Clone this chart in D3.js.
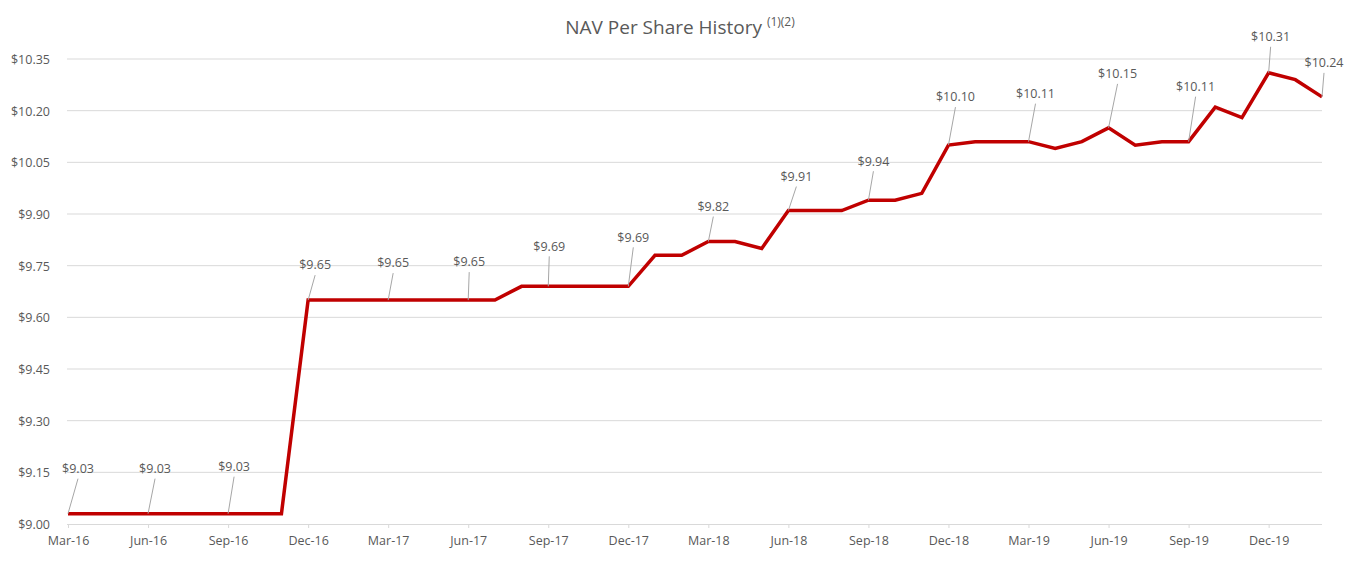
<!DOCTYPE html>
<html>
<head>
<meta charset="utf-8">
<script src="https://cdn.jsdelivr.net/npm/d3@7"></script>
<style>
    body { margin: 0; background: #fff; }
    text { font-family: "Open Sans", sans-serif; fill: #595959; }
</style>
</head>
<body>
<div id="chart"></div>
<script>
var svgWidth = 1365;
var svgHeight = 569;

// Data
var months = ["Mar-16", "Apr-16", "May-16", "Jun-16", "Jul-16", "Aug-16", "Sep-16", "Oct-16", "Nov-16", "Dec-16",
    "Jan-17", "Feb-17", "Mar-17", "Apr-17", "May-17", "Jun-17", "Jul-17", "Aug-17", "Sep-17", "Oct-17", "Nov-17", "Dec-17",
    "Jan-18", "Feb-18", "Mar-18", "Apr-18", "May-18", "Jun-18", "Jul-18", "Aug-18", "Sep-18", "Oct-18", "Nov-18", "Dec-18",
    "Jan-19", "Feb-19", "Mar-19", "Apr-19", "May-19", "Jun-19", "Jul-19", "Aug-19", "Sep-19", "Oct-19", "Nov-19", "Dec-19",
    "Jan-20", "Feb-20"];
var nav = [9.03, 9.03, 9.03, 9.03, 9.03, 9.03, 9.03, 9.03, 9.03, 9.65,
    9.65, 9.65, 9.65, 9.65, 9.65, 9.65, 9.65, 9.69, 9.69, 9.69, 9.69, 9.69,
    9.78, 9.78, 9.82, 9.82, 9.80, 9.91, 9.91, 9.91, 9.94, 9.94, 9.96, 10.10,
    10.11, 10.11, 10.11, 10.09, 10.11, 10.15, 10.10, 10.11, 10.11, 10.21, 10.18, 10.31,
    10.29, 10.24];
var xTickLabels = ["Mar-16", "Jun-16", "Sep-16", "Dec-16", "Mar-17", "Jun-17", "Sep-17", "Dec-17",
    "Mar-18", "Jun-18", "Sep-18", "Dec-18", "Mar-19", "Jun-19", "Sep-19", "Dec-19"];
var yTicks = [9.00, 9.15, 9.30, 9.45, 9.60, 9.75, 9.90, 10.05, 10.20, 10.35];
var labeledMonths = ["Mar-16", "Jun-16", "Sep-16", "Dec-16", "Mar-17", "Jun-17", "Sep-17", "Dec-17",
    "Mar-18", "Jun-18", "Sep-18", "Dec-18", "Mar-19", "Jun-19", "Sep-19", "Dec-19", "Feb-20"];

// label placement (pixel offset of label centre from its point)
var labelOffsets = [[10, -45], [7, -45], [6, -47], [7, -35], [5, -37], [1, -38], [1, -40], [5, -49],
    [5, -35], [8, -34], [5, -39], [7, -48], [7, -48], [9, -54], [7, -55], [2, -36], [2, -34]];

var data = months.map((m, i) => ({ month: m, value: nav[i] }));

var svg = d3.select("#chart")
    .append("svg")
    .attr("width", svgWidth)
    .attr("height", svgHeight);

var xScale = d3.scalePoint()
    .domain(months)
    .range([68, 1322]);
var yScale = d3.scaleLinear()
    .domain([9.00, 10.35])
    .range([524, 59]);

// gridlines
svg.append("g")
    .selectAll("line")
    .data(yTicks.slice(1))
    .join("line")
    .attr("x1", 67)
    .attr("x2", 1322)
    .attr("y1", d => yScale(d))
    .attr("y2", d => yScale(d))
    .attr("stroke", "#d9d9d9")
    .attr("stroke-width", 1);

// y axis labels
var yAxis = d3.axisLeft(yScale)
    .tickValues(yTicks)
    .tickFormat(d => "$" + d3.format(".2f")(d))
    .tickSize(0)
    .tickPadding(0);
var yG = svg.append("g")
    .attr("transform", "translate(50,0)")
    .call(yAxis);
yG.select(".domain").remove();
yG.selectAll("text")
    .attr("font-size", "12.5px")
    .attr("dy", "0.35em")
    .style("font-family", "'Open Sans', sans-serif")
    .attr("fill", "#595959");

// x axis
var xAxis = d3.axisBottom(xScale)
    .tickValues(xTickLabels)
    .tickSizeInner(4)
    .tickSizeOuter(0)
    .tickPadding(8);
var xG = svg.append("g")
    .attr("transform", `translate(0, ${yScale(9.00)})`)
    .call(xAxis);
xG.select(".domain")
    .attr("stroke", "#d9d9d9")
    .attr("d", "M67,0.5H1322");
xG.selectAll(".tick line").attr("stroke", "#d9d9d9");
xG.selectAll("text")
    .attr("font-size", "12.5px")
    .style("font-family", "'Open Sans', sans-serif")
    .attr("fill", "#595959");

// line
var line = d3.line()
    .x(d => xScale(d.month))
    .y(d => yScale(d.value));
svg.append("path")
    .datum(data)
    .attr("d", line)
    .attr("fill", "none")
    .attr("stroke", "#c00000")
    .attr("stroke-width", 3.5)
    .attr("stroke-linejoin", "miter");

// data labels with leader lines
var labels = labeledMonths.map((m, i) => {
    var d = data[months.indexOf(m)];
    return { x: xScale(m), y: yScale(d.value), value: d.value, dx: labelOffsets[i][0], dy: labelOffsets[i][1] };
});
svg.append("g")
    .selectAll("line")
    .data(labels)
    .join("line")
    .attr("x1", d => d.x)
    .attr("y1", d => d.y)
    .attr("x2", d => d.x + d.dx)
    .attr("y2", d => d.y + d.dy + 10)
    .attr("stroke", "#a6a6a6")
    .attr("stroke-width", 1);
svg.append("g")
    .selectAll("text")
    .data(labels)
    .join("text")
    .attr("x", d => d.x + d.dx)
    .attr("y", d => d.y + d.dy)
    .attr("dy", "0.35em")
    .attr("text-anchor", "middle")
    .attr("font-size", "12.5px")
    .text(d => "$" + d3.format(".2f")(d.value));

// title
var title = svg.append("text")
    .attr("x", 680)
    .attr("y", 34)
    .attr("text-anchor", "middle")
    .attr("font-size", "19px");
title.append("tspan").text("NAV Per Share History ");
title.append("tspan")
    .attr("font-size", "12px")
    .attr("dy", "-8")
    .text("(1)(2)");
</script>
</body>
</html>
